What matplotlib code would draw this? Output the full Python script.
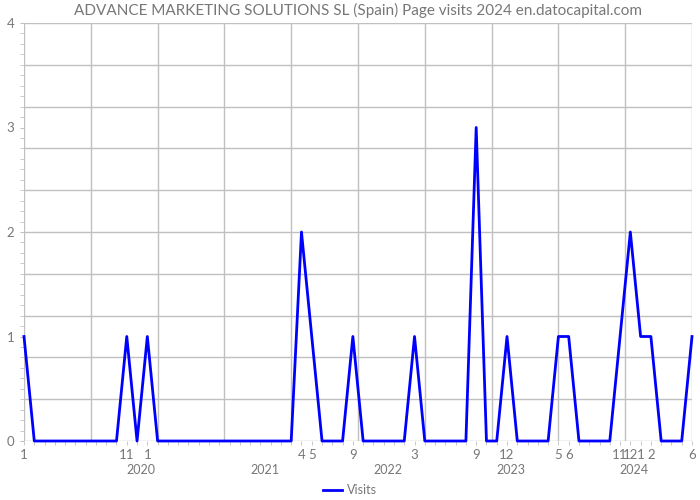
import numpy as np
import matplotlib
matplotlib.use("Agg")
import matplotlib.pyplot as plt
import matplotlib.transforms as mtransforms

# Monthly page visits, Jan 2019 .. Jun 2024
years = [2019, 2020, 2021, 2022, 2023, 2024]
visits = [
    1, 0, 0, 0, 0, 0, 0, 0, 0, 0, 1, 0,   # 2019
    1, 0, 0, 0, 0, 0, 0, 0, 0, 0, 0, 0,   # 2020
    0, 0, 0, 2, 1, 0, 0, 0, 1, 0, 0, 0,   # 2021
    0, 0, 1, 0, 0, 0, 0, 0, 3, 0, 0, 1,   # 2022
    0, 0, 0, 0, 1, 1, 0, 0, 0, 0, 1, 2,   # 2023
    1, 1, 0, 0, 0, 1,                     # 2024
]
year_labels = ["2020", "2021", "2022", "2023", "2024"]

GRIS_TEXTO = "#777777"
GRIS_GRID = "#c0c0c0"

plt.rcParams["font.family"] = ["Lato", "DejaVu Sans"]

meses = np.arange(len(visits))
numero_mes = [(i % 12) + 1 for i in meses]

fig = plt.figure(figsize=(7, 5), dpi=100)
ax = fig.add_axes([24 / 700, 1 - 441 / 500, 668 / 700, 418 / 500])

ymax = 4
ax.set_xlim(0, meses[-1])
ax.set_ylim(0, ymax)

# rejilla: 10 divisiones en cada eje
for xg in np.linspace(0, meses[-1], 11):
    ax.axvline(xg, color=GRIS_GRID, lw=1, zorder=1)
for yg in np.linspace(0, ymax, 11):
    ax.axhline(yg, color=GRIS_GRID, lw=1, zorder=1)

ax.plot(meses, visits, color="#0000ff", lw=2, label="Visits", zorder=3, clip_on=False)

for lado in ax.spines.values():
    lado.set_visible(False)

# eje x: una marca por mes, etiqueta solo si hay visitas
ax.set_xticks([])
ax.set_xticks(meses, minor=True)
etiquetas = [str(m) if (v > 0 or i == meses[-1] or i == 0) else "" for i, (m, v) in enumerate(zip(numero_mes, visits))]
ax.set_xticklabels(etiquetas, minor=True)
ax.tick_params(axis="x", which="minor", length=3, color=GRIS_GRID, pad=3,
               labelsize=9.5, labelcolor=GRIS_TEXTO)

ax.set_yticks(range(0, ymax + 1))
ax.set_yticks(np.arange(0, ymax + 0.01, 0.1), minor=True)
ax.tick_params(axis="y", which="both", length=3, color=GRIS_GRID, pad=4,
               labelsize=9.5, labelcolor=GRIS_TEXTO)

trans = mtransforms.blended_transform_factory(ax.transData, ax.transAxes)
for k, texto in enumerate(year_labels):
    ax.text(12 * (k + 1) - 0.6, -0.069, texto, transform=trans, ha="center", va="center",
            fontsize=9, color=GRIS_TEXTO)

ax.set_title("ADVANCE MARKETING SOLUTIONS SL (Spain) Page visits 2024 en.datocapital.com",
             fontsize=11, color=GRIS_TEXTO, pad=6)

fig.legend(loc="center", bbox_to_anchor=(0.5, 1 - 490 / 500), frameon=False,
           prop={"size": 9}, labelcolor=GRIS_TEXTO, handlelength=1.5, handletextpad=0.4)

fig.savefig("out.png", dpi=100)
